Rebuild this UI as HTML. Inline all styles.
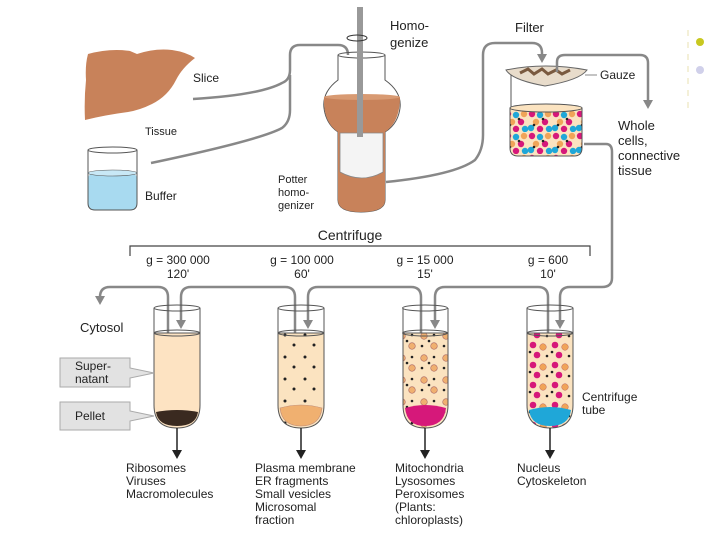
<!DOCTYPE html>
<html><head><meta charset="utf-8"><style>
body{margin:0;background:#fff}
svg{display:block}
text{font-family:"Liberation Sans",sans-serif;fill:#222}
</style></head><body>
<svg width="720" height="540" viewBox="0 0 720 540" xmlns="http://www.w3.org/2000/svg">
<defs>
<marker id="ag" markerWidth="10" markerHeight="10" refX="2" refY="5" orient="auto" markerUnits="userSpaceOnUse"><path d="M0,0 L9,5 L0,10z" fill="#888"/></marker>
<pattern id="mix" width="24" height="22" patternUnits="userSpaceOnUse">
<rect width="24" height="22" fill="#fbe3c0"/>
<circle cx="4" cy="4" r="3.2" fill="#d6187a"/><circle cx="12" cy="5" r="3.2" fill="#1fa7d8"/><circle cx="20" cy="4" r="3.2" fill="#f0a458"/>
<circle cx="8" cy="12" r="3.2" fill="#f0a458"/><circle cx="17" cy="12" r="3.2" fill="#d6187a"/>
<circle cx="3" cy="18" r="3.2" fill="#1fa7d8"/><circle cx="12" cy="19" r="3.2" fill="#d6187a"/><circle cx="21" cy="19" r="3.2" fill="#1fa7d8"/>
<circle cx="15" cy="9" r="1.3" fill="#222"/><circle cx="6" cy="15" r="1.3" fill="#222"/>
</pattern>
<pattern id="t4" width="22" height="20" patternUnits="userSpaceOnUse">
<rect width="22" height="20" fill="#fbe3c0"/>
<circle cx="5" cy="5" r="3.3" fill="#d6187a"/><circle cx="15" cy="7" r="3.3" fill="#f0a458" stroke="#b66" stroke-width=".5"/>
<circle cx="9" cy="15" r="3.3" fill="#d6187a"/><circle cx="19" cy="16" r="1.3" fill="#222"/><circle cx="2" cy="12" r="1.3" fill="#222"/>
</pattern>
<pattern id="t3" width="22" height="22" patternUnits="userSpaceOnUse">
<rect width="22" height="22" fill="#fbe3c0"/>
<circle cx="6" cy="6" r="3.3" fill="#f0b070" stroke="#a66" stroke-width=".6"/><circle cx="16" cy="16" r="3.3" fill="#f0b070" stroke="#a66" stroke-width=".6"/>
<circle cx="16" cy="5" r="1.3" fill="#222"/><circle cx="4" cy="16" r="1.3" fill="#222"/><circle cx="11" cy="11" r="1.3" fill="#222"/>
</pattern>
<pattern id="t2" width="20" height="22" patternUnits="userSpaceOnUse">
<rect width="20" height="22" fill="#fbe3c0"/>
<circle cx="5" cy="5" r="1.5" fill="#222"/><circle cx="14" cy="15" r="1.5" fill="#222"/>
</pattern>
</defs>

<line x1="688" y1="30" x2="688" y2="110" stroke="#e8e0b0" stroke-width="1" stroke-dasharray="6 6"/>
<circle cx="700" cy="42" r="4" fill="#c8c820"/>
<circle cx="700" cy="70" r="4" fill="#d0d0ea"/>

<!-- liver -->
<path d="M88,54 Q110,48 130,51 L137,54 Q155,48 172,50 Q186,52 195,58 Q182,68 176,80 Q168,96 152,104 Q140,110 128,112 Q105,115 85,120 Q84,100 86,80 Q85,65 88,54z" fill="#c8825a"/>
<text x="193" y="82" font-size="12">Slice</text>
<text x="145" y="135" font-size="11" fill="#444">Tissue</text>
<rect x="88" y="173" width="49" height="37" rx="6" fill="#a8daf0"/>
<path d="M88,150 L88,203 Q88,210 95,210 L130,210 Q137,210 137,203 L137,150" fill="none" stroke="#555" stroke-width="1"/>
<ellipse cx="112.5" cy="150" rx="24.5" ry="3" fill="none" stroke="#555" stroke-width="1"/>
<ellipse cx="112.5" cy="173" rx="24.5" ry="3" fill="#c8e8f6" stroke="#555" stroke-width=".6"/>
<text x="145" y="200" font-size="12">Buffer</text>

<path d="M193,99 Q260,95 282,83 Q290,80 290,70 L290,55 Q290,45 300,45 L338,45 Q348,45 348,55 L348,63" fill="none" stroke="#888" stroke-width="2.5" marker-end="url(#ag)"/>
<path d="M151,163 Q260,140 282,128 Q290,122 290,110 L290,75" fill="none" stroke="#888" stroke-width="2.5"/>

<!-- potter -->
<path d="M338,55 L338,80 Q322,92 324,108 Q326,124 338,132 L338,200 Q338,212 361,212 Q385,212 385,200 L385,132 Q398,124 400,108 Q402,92 385,80 L385,55" fill="#fff" stroke="#555" stroke-width="1"/>
<path d="M324,97 L400,97 Q400,122 385,132 L385,200 Q385,212 361,212 Q338,212 338,200 L338,132 Q323,122 324,97z" fill="#c8825a"/>
<ellipse cx="362" cy="97" rx="38" ry="3" fill="#d89a72"/>
<path d="M340,133 L383,133 L383,172 Q362,184 340,172z" fill="#f4f4f4" stroke="#888" stroke-width=".8"/>
<ellipse cx="361.5" cy="55" rx="23.5" ry="3" fill="none" stroke="#555" stroke-width="1"/>
<rect x="357" y="7" width="6" height="130" fill="#999"/>
<ellipse cx="357" cy="38" rx="10" ry="3" fill="none" stroke="#333" stroke-width="1"/>
<text x="390" y="30" font-size="13" fill="#333">Homo-</text>
<text x="390" y="47" font-size="13" fill="#333">genize</text>
<text x="278" y="183" font-size="11">Potter</text>
<text x="278" y="196" font-size="11">homo-</text>
<text x="278" y="209" font-size="11">genizer</text>

<path d="M386,182 Q455,175 475,160 Q483,150 483,135 L483,55 Q483,43 495,43 L532,43 Q542,43 542,53 L542,56" fill="none" stroke="#888" stroke-width="2.5" marker-end="url(#ag)"/>
<text x="515" y="32" font-size="13">Filter</text>
<path d="M506,70 Q545,62 587,70 Q580,80 545,86 Q512,80 506,70z" fill="#e8dccb" stroke="#666" stroke-width="1"/>
<path d="M520,73 l8,-4 l6,5 l8,-5 l6,5 l8,-4 l6,4 l8,-4" fill="none" stroke="#7a5a40" stroke-width="3"/>
<text x="600" y="79" font-size="12" fill="#555">Gauze</text>
<line x1="585" y1="75" x2="597" y2="75" stroke="#888" stroke-width="1"/>
<path d="M557,72 L557,62 Q557,55 565,55 L640,55 Q648,55 648,63 L648,102" fill="none" stroke="#888" stroke-width="2.5" marker-end="url(#ag)"/>
<text x="618" y="130" font-size="13">Whole</text>
<text x="618" y="145" font-size="13">cells,</text>
<text x="618" y="160" font-size="13">connective</text>
<text x="618" y="175" font-size="13">tissue</text>
<line x1="511" y1="75" x2="511" y2="108" stroke="#555" stroke-width="1"/>
<path d="M510,108 L510,148 Q510,156 518,156 L574,156 Q582,156 582,148 L582,108z" fill="url(#mix)" stroke="#555" stroke-width="1"/>
<ellipse cx="546" cy="108" rx="36" ry="4" fill="#fbe3c0" stroke="#555" stroke-width="1"/>
<path d="M584,144 L606,144 Q612,144 612,152 L612,278 Q612,287 602,287 L570,287 Q560,287 560,297 L560,322" fill="none" stroke="#888" stroke-width="2.5" marker-end="url(#ag)"/>

<text x="350" y="240" font-size="14" text-anchor="middle">Centrifuge</text>
<path d="M130,256 L130,246 L590,246 L590,256" fill="none" stroke="#444" stroke-width="1.2"/>
<g font-size="12" text-anchor="middle">
<text x="178" y="264">g = 300 000</text><text x="178" y="278">120'</text>
<text x="302" y="264">g = 100 000</text><text x="302" y="278">60'</text>
<text x="425" y="264">g = 15 000</text><text x="425" y="278">15'</text>
<text x="548" y="264">g = 600</text><text x="548" y="278">10'</text>
</g>

<g fill="none" stroke="#888" stroke-width="2.5">
<path d="M168,345 L168,297 Q168,287 158,287 L110,287 Q100,287 100,297 L100,298" marker-end="url(#ag)"/>
<path d="M295,345 L295,297 Q295,287 285,287 L191,287 Q181,287 181,297 L181,322" marker-end="url(#ag)"/>
<path d="M421,345 L421,297 Q421,287 411,287 L318,287 Q308,287 308,297 L308,322" marker-end="url(#ag)"/>
<path d="M548,345 L548,297 Q548,287 538,287 L445,287 Q435,287 435,297 L435,322" marker-end="url(#ag)"/>
</g>
<text x="80" y="332" font-size="13">Cytosol</text>

<g stroke="#555" stroke-width="1">
<path d="M154,333 L154,405 Q154,428 177,428 Q200,428 200,405 L200,333z" fill="#fde3c2"/>
<path d="M278,333 L278,405 Q278,428 301,428 Q324,428 324,405 L324,333z" fill="url(#t2)"/>
<path d="M403,333 L403,405 Q403,428 425,428 Q448,428 448,405 L448,333z" fill="url(#t3)"/>
<path d="M527,333 L527,405 Q527,428 550,428 Q573,428 573,405 L573,333z" fill="url(#t4)"/>
</g>
<g>
<path d="M156,412 Q177,408 198,412 Q196,426 177,426 Q158,426 156,412z" fill="#3a2a20"/>
<path d="M280,408 Q301,402 322,408 Q320,426 301,426 Q282,426 280,408z" fill="#f0b070" stroke="#b87" stroke-width=".6"/>
<path d="M405,408 Q425,402 446,408 Q444,426 425,426 Q407,426 405,408z" fill="#d6187a"/>
<path d="M529,410 Q550,404 571,410 Q569,426 550,426 Q531,426 529,410z" fill="#1fa7d8"/>
</g>
<g fill="none" stroke="#555" stroke-width="1">
<path d="M154,308 L154,333 M200,308 L200,333 M278,308 L278,333 M324,308 L324,333 M403,308 L403,333 M448,308 L448,333 M527,308 L527,333 M573,308 L573,333"/>
<ellipse cx="177" cy="308" rx="23" ry="3"/><ellipse cx="301" cy="308" rx="23" ry="3"/><ellipse cx="425" cy="308" rx="22.5" ry="3"/><ellipse cx="550" cy="308" rx="23" ry="3"/>
<ellipse cx="177" cy="333" rx="23" ry="3"/><ellipse cx="301" cy="333" rx="23" ry="3"/><ellipse cx="425" cy="333" rx="22.5" ry="3"/><ellipse cx="550" cy="333" rx="23" ry="3"/>
</g>

<path d="M60,358 L130,358 L130,368 L154,373 L130,378 L130,387 L60,387z" fill="#e2e2e2" stroke="#aaa" stroke-width="1"/>
<text x="75" y="370" font-size="12" fill="#444">Super-</text>
<text x="75" y="383" font-size="12" fill="#444">natant</text>
<path d="M60,402 L130,402 L130,411 L154,416 L130,421 L130,430 L60,430z" fill="#e2e2e2" stroke="#aaa" stroke-width="1"/>
<text x="75" y="420" font-size="12" fill="#444">Pellet</text>
<text x="582" y="401" font-size="12">Centrifuge</text>
<text x="582" y="414" font-size="12">tube</text>

<g stroke="#222" stroke-width="1.5">
<line x1="177" y1="428" x2="177" y2="452"/><line x1="301" y1="428" x2="301" y2="452"/><line x1="425" y1="428" x2="425" y2="452"/><line x1="550" y1="428" x2="550" y2="452"/>
</g>
<g fill="#222">
<path d="M172,450 L182,450 L177,459z"/><path d="M296,450 L306,450 L301,459z"/><path d="M420,450 L430,450 L425,459z"/><path d="M545,450 L555,450 L550,459z"/>
</g>
<g font-size="12">
<text x="126" y="472">Ribosomes</text><text x="126" y="485">Viruses</text><text x="126" y="498">Macromolecules</text>
<text x="255" y="472">Plasma membrane</text><text x="255" y="485">ER fragments</text><text x="255" y="498">Small vesicles</text><text x="255" y="511">Microsomal</text><text x="255" y="524">fraction</text>
<text x="395" y="472">Mitochondria</text><text x="395" y="485">Lysosomes</text><text x="395" y="498">Peroxisomes</text><text x="395" y="511">(Plants:</text><text x="395" y="524">chloroplasts)</text>
<text x="517" y="472">Nucleus</text><text x="517" y="485">Cytoskeleton</text>
</g>
</svg>
</body></html>
